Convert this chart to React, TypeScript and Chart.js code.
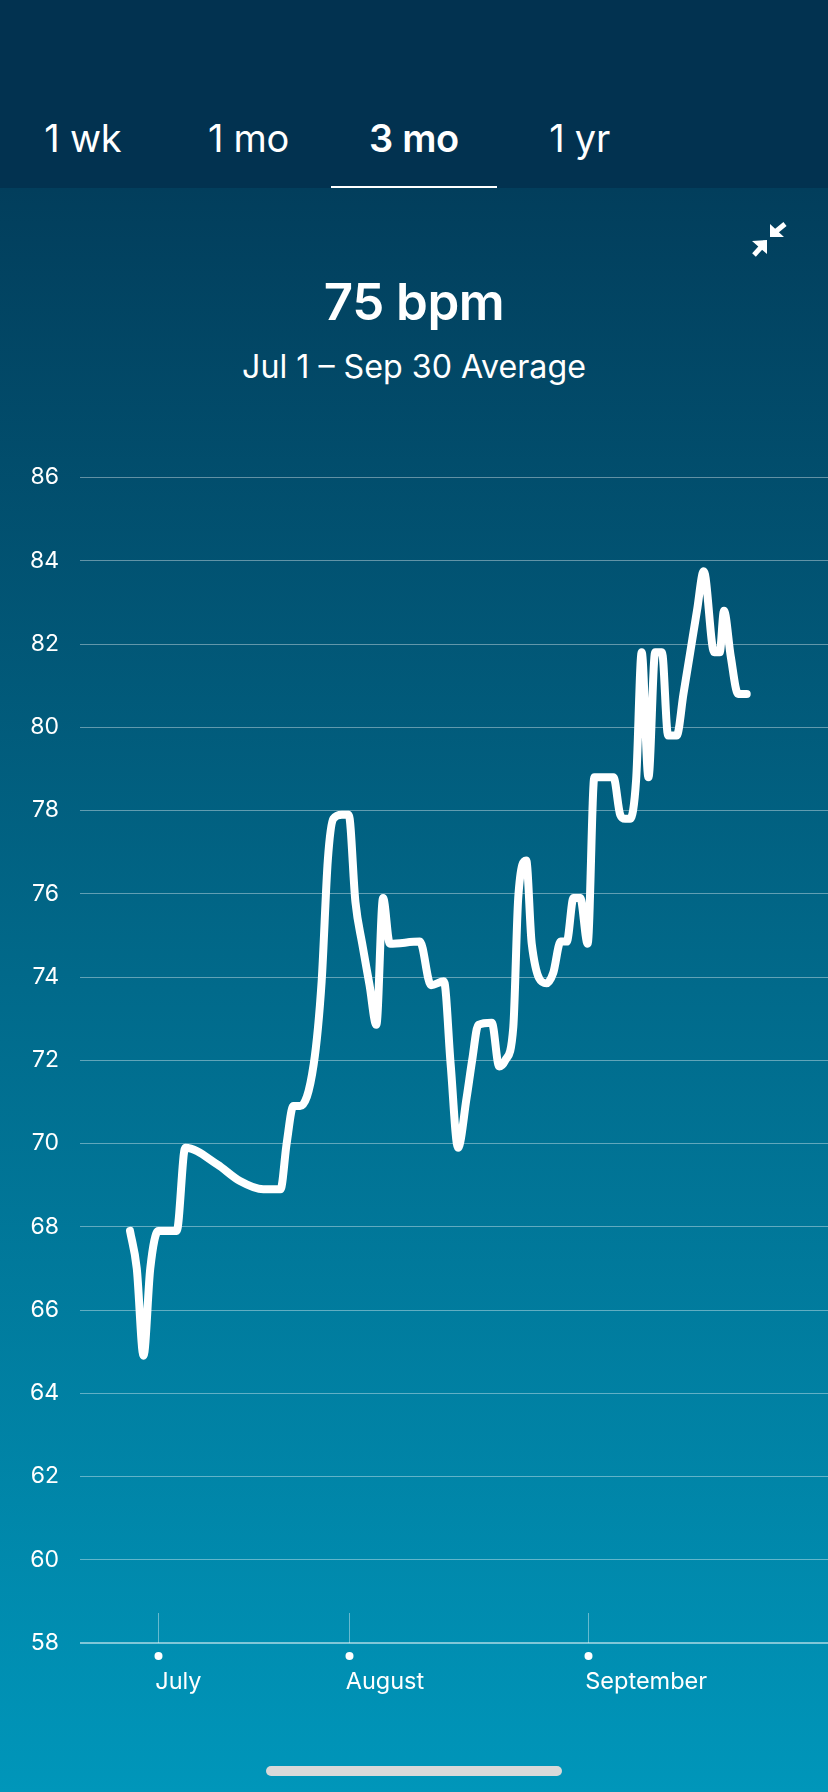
import { useEffect, useRef } from 'react';
import Chart from 'chart.js/auto';

const FONT = 'Inter, "Noto Sans", sans-serif';

// x position of each reading, in days after Jul 1
const dayPositions = [
  -4.6, -3.5, -2.4, -1.3, 0, 3.0, 4.4, 9.6, 13.3, 17.1, 19.9, 20.9, 22.0, 23.1, 25.3, 26.6,
  27.6, 28.5, 29.9, 31.0, 32.1, 33.2, 34.4, 35.5, 36.6, 37.7, 42.6, 44.4, 46.5, 47.6, 48.8, 50.2,
  51.1, 52.1, 54.3, 55.5, 56.5, 57.8, 58.6, 59.9, 60.8, 63.2, 64.3, 65.5, 66.5, 67.6, 68.7, 69.9,
  71.0, 74.1, 75.2, 76.0, 76.8, 77.8, 78.7, 79.8, 80.9, 82.0, 83.0, 84.4, 85.5, 86.6, 87.7, 88.8,
  90.5, 91.4, 92.1, 93.2, 94.4, 95.8,
];
const bpmValues = [
  67.9, 67.0, 64.9, 67.0, 67.9, 67.9, 69.9, 69.5, 69.1, 68.9, 68.9, 70.0, 70.9, 70.9, 71.9, 73.9,
  76.8, 77.8, 77.9, 77.9, 75.8, 74.8, 73.8, 72.85, 75.9, 74.8, 74.85, 73.8, 73.9, 71.9, 69.9, 71.1,
  72.0, 72.85, 72.9, 71.85, 72.0, 72.8, 75.9, 76.8, 74.8, 73.85, 74.1, 74.85, 74.85, 75.9, 75.9, 74.8,
  78.8, 78.8, 77.9, 77.8, 77.8, 78.75, 81.8, 78.8, 81.8, 81.8, 79.8, 79.8, 80.8, 81.8, 82.8, 83.75,
  81.8, 81.8, 82.8, 81.7, 80.8, 80.8,
];
const monthTicks = [0, 31, 70];
const monthLabels = ['July', 'August', 'September'];
const tabLabels = ['1 wk', '1 mo', '3 mo', '1 yr'];
const selectedTab = 2;

// small marks under the x axis: a stem above it and a dot below, one per month
const monthMarks = {
  id: 'monthMarks',
  afterDatasetsDraw(chart: any) {
    const { ctx, scales, chartArea } = chart;
    const x = scales.x;
    ctx.save();
    x.ticks.forEach((_: any, i: number) => {
      const px = Math.round(x.getPixelForTick(i)) + 0.5;
      ctx.strokeStyle = 'rgba(255,255,255,0.4)';
      ctx.lineWidth = 1;
      ctx.beginPath();
      ctx.moveTo(px, chartArea.bottom - 30);
      ctx.lineTo(px, chartArea.bottom);
      ctx.stroke();
      ctx.fillStyle = '#fff';
      ctx.beginPath();
      ctx.arc(px, chartArea.bottom + 13, 4, 0, Math.PI * 2);
      ctx.fill();
    });
    ctx.restore();
  },
};

export default function App() {
  const canvasRef = useRef<HTMLCanvasElement | null>(null);

  useEffect(() => {
    if (!canvasRef.current) return;

    const chart = new Chart(canvasRef.current, {
      type: 'line',
      data: {
        datasets: [
          {
            data: dayPositions.map((d, i) => ({ x: d, y: bpmValues[i] })),
            borderColor: '#fff',
            borderWidth: 8,
            borderCapStyle: 'round',
            borderJoinStyle: 'round',
            cubicInterpolationMode: 'monotone',
            pointRadius: 0,
            clip: false,
          },
        ],
      },
      options: {
        responsive: false,
        animation: false,
        layout: { autoPadding: false, padding: { top: 477.5, bottom: 0, left: 0, right: 0 } },
        plugins: { legend: { display: false }, tooltip: { enabled: false } },
        scales: {
          x: {
            type: 'linear',
            min: -12.74,
            max: 109.03,
            grid: { display: false },
            border: { display: false },
            afterBuildTicks: (axis: any) => {
              axis.ticks = monthTicks.map((value) => ({ value }));
            },
            afterFit: (axis: any) => {
              axis.height = 149;
              // left-aligned month labels must not shrink the plot width
              axis.paddingLeft = 0;
              axis.paddingRight = 0;
            },
            ticks: {
              autoSkip: false,
              maxRotation: 0,
              align: 'start',
              labelOffset: -3,
              padding: 17,
              color: '#fff',
              font: { family: FONT, size: 23.5 },
              callback: (value: any) => monthLabels[monthTicks.indexOf(value)],
            },
          },
          y: {
            min: 58,
            max: 86,
            afterFit: (axis: any) => {
              axis.width = 80;
            },
            border: { display: false },
            grid: {
              drawTicks: false,
              color: (c: any) => (c.tick.value === 58 ? 'rgba(255,255,255,0.5)' : 'rgba(255,255,255,0.38)'),
              lineWidth: (c: any) => (c.tick.value === 58 ? 2 : 1),
            },
            ticks: {
              stepSize: 2,
              padding: 21,
              color: '#fff',
              font: { family: FONT, size: 23 },
            },
          },
        },
      },
      plugins: [monthMarks],
    } as any);

    return () => chart.destroy();
  }, []);

  return (
    <div
      style={{
        position: 'absolute',
        left: 0,
        top: 0,
        width: 828,
        height: 1792,
        overflow: 'hidden',
        color: '#fff',
        fontFamily: FONT,
        background: 'linear-gradient(180deg, #023e5c 188px, #0096ba 1792px)',
      }}
    >
      <div style={{ position: 'absolute', left: 0, top: 0, width: 828, height: 188, background: '#023250' }} />
      {tabLabels.map((label, i) => (
        <div
          key={label}
          style={{
            position: 'absolute',
            left: i * 165.6,
            width: 165.6,
            top: 115,
            height: 46,
            lineHeight: '46px',
            textAlign: 'center',
            fontSize: 38,
            letterSpacing: -0.3,
            fontWeight: i === selectedTab ? 600 : 400,
          }}
        >
          {label}
        </div>
      ))}
      <div style={{ position: 'absolute', left: 331, width: 166, top: 186, height: 2, background: '#fff' }} />

      <svg width={828} height={300} style={{ position: 'absolute', left: 0, top: 0 }}>
        <path d="M770 237V224L784 237Z M752 241L767 240V254Z" fill="#fff" />
        <path d="M774 233L785 224 M764 244L754 255" stroke="#fff" strokeWidth={5} />
      </svg>

      <div style={{ position: 'absolute', left: 0, width: 828, top: 270, height: 64, lineHeight: '64px', textAlign: 'center', fontSize: 51, fontWeight: 600, letterSpacing: -0.5 }}>
        75 bpm
      </div>
      <div style={{ position: 'absolute', left: 0, width: 828, top: 346, height: 42, lineHeight: '42px', textAlign: 'center', fontSize: 32.2 }}>
        Jul 1 – Sep 30 Average
      </div>

      <canvas ref={canvasRef} width={828} height={1792} style={{ position: 'absolute', left: 0, top: 0, display: 'block' }} />

      <div style={{ position: 'absolute', left: 266, width: 296, top: 1766, height: 10, borderRadius: 5, background: '#d9d9d9' }} />
    </div>
  );
}
